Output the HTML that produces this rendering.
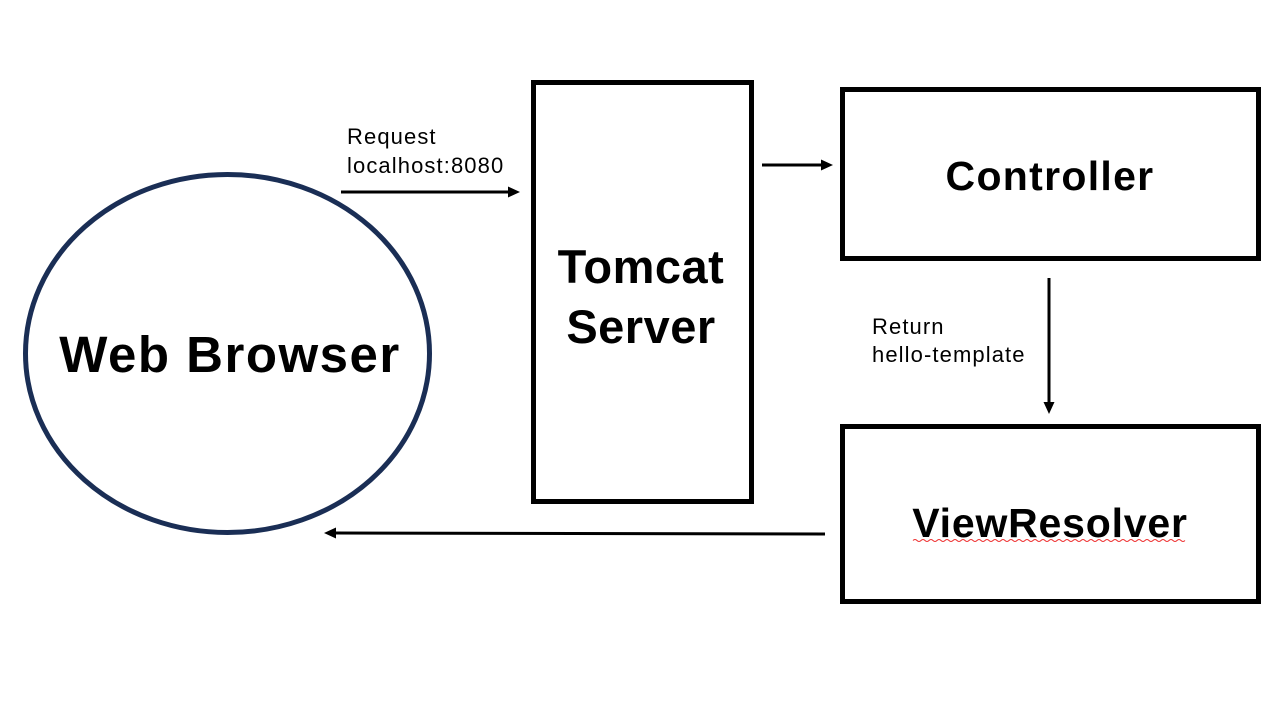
<!DOCTYPE html>
<html><head><meta charset="utf-8"><style>
html,body{margin:0;padding:0;background:#fff;}
svg{display:block;}
</style></head><body>
<svg width="1280" height="708" viewBox="0 0 1280 708" xmlns="http://www.w3.org/2000/svg" font-family="Liberation Sans, DejaVu Sans, sans-serif">
<rect width="1280" height="708" fill="#fff"/>
<ellipse cx="227.5" cy="353.5" rx="202" ry="179" fill="none" stroke="#1a2e55" stroke-width="5"/>
<text x="230" y="372" font-size="51" font-weight="bold" text-anchor="middle" letter-spacing="1.5">Web Browser</text>
<rect x="533.5" y="82.5" width="218" height="419" fill="none" stroke="#000" stroke-width="5"/>
<text x="641" y="283" font-size="47" font-weight="bold" text-anchor="middle" letter-spacing="0.5">Tomcat</text>
<text x="641" y="343" font-size="47" font-weight="bold" text-anchor="middle" letter-spacing="0.5">Server</text>
<rect x="842.5" y="89.5" width="416" height="169" fill="none" stroke="#000" stroke-width="5"/>
<text x="1050" y="190" font-size="41" font-weight="bold" text-anchor="middle" letter-spacing="1.3">Controller</text>
<rect x="842.5" y="426.5" width="416" height="175" fill="none" stroke="#000" stroke-width="5"/>
<text x="1050" y="537" font-size="41" font-weight="bold" text-anchor="middle" letter-spacing="0.8">ViewResolver</text>
<path d="M913 540.5 Q915 538.5 917 540.5 T921 540.5 T925 540.5 T929 540.5 T933 540.5 T937 540.5 T941 540.5 T945 540.5 T949 540.5 T953 540.5 T957 540.5 T961 540.5 T965 540.5 T969 540.5 T973 540.5 T977 540.5 T981 540.5 T985 540.5 T989 540.5 T993 540.5 T997 540.5 T1001 540.5 T1005 540.5 T1009 540.5 T1013 540.5 T1017 540.5 T1021 540.5 T1025 540.5 T1029 540.5 T1033 540.5 T1037 540.5 T1041 540.5 T1045 540.5 T1049 540.5 T1053 540.5 T1057 540.5 T1061 540.5 T1065 540.5 T1069 540.5 T1073 540.5 T1077 540.5 T1081 540.5 T1085 540.5 T1089 540.5 T1093 540.5 T1097 540.5 T1101 540.5 T1105 540.5 T1109 540.5 T1113 540.5 T1117 540.5 T1121 540.5 T1125 540.5 T1129 540.5 T1133 540.5 T1137 540.5 T1141 540.5 T1145 540.5 T1149 540.5 T1153 540.5 T1157 540.5 T1161 540.5 T1165 540.5 T1169 540.5 T1173 540.5 T1177 540.5 T1181 540.5 T1185 540.5" fill="none" stroke="#e33" stroke-width="1"/>
<line x1="341" y1="192" x2="510" y2="192" stroke="#000" stroke-width="3"/>
<polygon points="520,192 508,186.5 508,197.5" fill="#000"/>
<line x1="762" y1="165" x2="822" y2="165" stroke="#000" stroke-width="3"/>
<polygon points="833,165 821,159.5 821,170.5" fill="#000"/>
<line x1="1049" y1="278" x2="1049" y2="403" stroke="#000" stroke-width="3"/>
<polygon points="1049,414 1043.5,402 1054.5,402" fill="#000"/>
<line x1="825" y1="534" x2="335" y2="533" stroke="#000" stroke-width="3"/>
<polygon points="324,533 336,527.5 336,538.5" fill="#000"/>
<text x="347" y="144" font-size="22" letter-spacing="1.1">Request</text>
<text x="347" y="173" font-size="22" letter-spacing="1.1">localhost:8080</text>
<text x="872" y="334" font-size="22" letter-spacing="1.1">Return</text>
<text x="872" y="362" font-size="22" letter-spacing="1.1">hello-template</text>
</svg>
</body></html>
